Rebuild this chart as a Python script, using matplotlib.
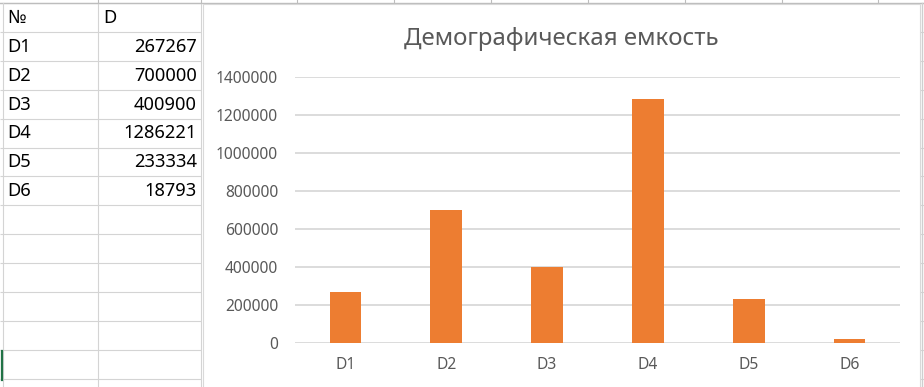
import matplotlib
matplotlib.use("Agg")
import matplotlib.pyplot as plt
from matplotlib.patches import Rectangle

plt.rcParams['font.family'] = ['Noto Sans', 'DejaVu Sans']

categories = ["D1", "D2", "D3", "D4", "D5", "D6"]
values = [267267, 700000, 400900, 1286221, 233334, 18793]
col_headers = ["№", "D"]
title = "Демографическая емкость"
yticks = [0, 200000, 400000, 600000, 800000, 1000000, 1200000, 1400000]

W, H = 924, 387
fig = plt.figure(figsize=(W / 100, H / 100), dpi=100)

# background "spreadsheet" layer in pixel coordinates
bg = fig.add_axes([0, 0, 1, 1])
bg.set_xlim(0, W)
bg.set_ylim(H, 0)
bg.axis("off")

grid_c = "#D4D4D4"
row_y = [3 + 28.9 * i for i in range(14)]
# horizontal row lines in the table area and at the far right
for y in row_y:
    bg.plot([0, 201], [y, y], color=grid_c, lw=0.8, solid_capstyle="butt")
    bg.plot([920, W], [y, y], color=grid_c, lw=0.8, solid_capstyle="butt")
bg.plot([0, W], [3, 3], color="#BDBDBD", lw=1.0)
# column lines
for x in [2.5, 98, 201]:
    bg.plot([x, x], [3, H], color=grid_c, lw=0.8)
for x in [98, 201, 297, 394, 491, 588, 685, 782, 878]:
    bg.plot([x, x], [0, 3], color="#BDBDBD", lw=0.8)
bg.plot([921.5, 921.5], [3, H], color="#CFCFCF", lw=1.0)
# green selected cell edge
bg.plot([1.5, 1.5], [351, 380], color="#217346", lw=1.6)

# table text
bg.text(7, row_y[0] + 14.8, col_headers[0], fontsize=13.2, va="center", ha="left", color="black")
bg.text(103, row_y[0] + 14.8, col_headers[1], fontsize=13.2, va="center", ha="left", color="black")
for i, (c, v) in enumerate(zip(categories, values)):
    yc = row_y[i + 1] + 14.8
    bg.text(7, yc, c, fontsize=13.2, va="center", ha="left", color="black")
    bg.text(197, yc, str(v), fontsize=13.2, va="center", ha="right", color="black")

# chart area box
bg.add_patch(Rectangle((203, 4), 717, 400, facecolor="white", edgecolor="#D9D9D9", lw=0.8, zorder=2))
bg.text(561.5, 45, title, fontsize=17.3, ha="center", va="baseline", color="#595959", zorder=3)

# chart axes
left, right, top, bottom = 295, 900, 77, 343
ax = fig.add_axes([left / W, (H - bottom) / H, (right - left) / W, (bottom - top) / H])
ax.patch.set_alpha(0)
x = list(range(len(categories)))
ax.bar(x, values, width=0.313, color="#ED7D31", zorder=3)
ax.set_xlim(-0.5, len(categories) - 0.5)
ax.set_ylim(0, 1400000)
ax.set_yticks(yticks)
ax.set_yticklabels([str(t) for t in yticks])
ax.set_xticks(x)
ax.set_xticklabels(categories)
ax.yaxis.grid(True, color="#D9D9D9", lw=1.3, zorder=0)
ax.set_axisbelow(True)
for s in ax.spines.values():
    s.set_visible(False)
ax.tick_params(axis="both", length=0, labelsize=11.2, labelcolor="#595959")
ax.tick_params(axis="y", pad=12.2)
ax.tick_params(axis="x", pad=10)

fig.savefig("out.png", dpi=100)
